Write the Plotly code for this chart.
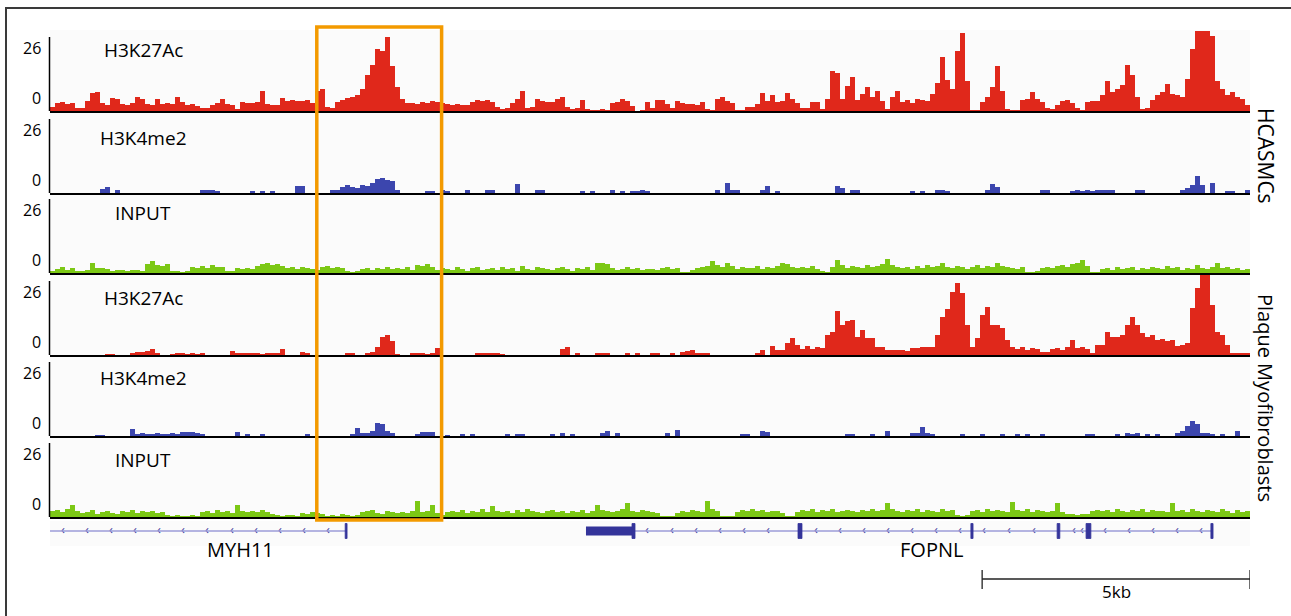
import plotly.graph_objects as go

W, H = 1291, 616
REGION_KB = 22.4
NBINS = 240
BIN_KB = REGION_KB / NBINS

RED = "#E0281B"
BLUE = "#3C46AE"
GREEN = "#7CC815"
ORANGE = "#F39A00"
GENE = "#34349A"
GENE_LINE = "#9C9CD8"

# ---- signal tracks (bar heights per bin, left to right) ----
h3k27ac_smc = [
    4, 8, 9, 7, 8, 3, 3, 10, 18, 19,
    8, 6, 13, 12, 7, 6, 8, 14, 12, 7,
    6, 12, 7, 8, 7, 14, 9, 6, 7, 5,
    3, 3, 6, 8, 12, 7, 6, 2, 9, 8,
    8, 9, 20, 7, 6, 6, 13, 10, 11, 10,
    10, 11, 8, 20, 22, 4, 3, 9, 11, 13,
    14, 16, 22, 36, 46, 62, 60, 74, 45, 24,
    12, 8, 8, 7, 9, 8, 10, 9, 8, 7,
    6, 7, 6, 6, 9, 11, 10, 11, 9, 4,
    2, 3, 8, 12, 20, 3, 4, 12, 10, 9,
    9, 12, 14, 4, 2, 3, 11, 2, 1, 1,
    2, 1, 8, 9, 12, 10, 5, 0, 1, 9,
    3, 11, 11, 7, 3, 10, 8, 7, 7, 6,
    9, 2, 1, 12, 14, 10, 8, 1, 1, 4,
    4, 7, 18, 10, 16, 9, 10, 18, 12, 8,
    3, 3, 9, 9, 2, 12, 40, 38, 12, 25,
    34, 11, 17, 24, 14, 20, 10, 2, 14, 20,
    9, 11, 8, 12, 11, 10, 17, 28, 54, 31,
    22, 60, 78, 30, 1, 1, 9, 14, 24, 45,
    20, 2, 1, 1, 11, 12, 19, 12, 9, 3,
    2, 6, 10, 11, 8, 3, 1, 9, 10, 10,
    16, 30, 19, 22, 26, 46, 36, 14, 2, 3,
    11, 16, 19, 27, 17, 16, 14, 32, 62, 80,
    80, 80, 75, 30, 22, 16, 19, 14, 12, 6,
]

h3k4me2_smc = [
    0, 0, 0, 0, 0, 0, 0, 0, 0, 0,
    4, 6, 0, 3, 0, 0, 0, 0, 0, 0,
    0, 0, 0, 0, 0, 0, 0, 0, 0, 0,
    3, 3, 3, 2, 0, 0, 0, 0, 0, 0,
    2, 0, 2, 0, 2, 0, 0, 0, 0, 7,
    7, 0, 0, 0, 0, 0, 3, 3, 6, 8,
    6, 5, 8, 7, 10, 14, 15, 13, 12, 3,
    0, 0, 0, 0, 0, 2, 2, 0, 3, 2,
    0, 0, 0, 3, 0, 0, 0, 3, 3, 0,
    0, 0, 0, 9, 0, 0, 0, 3, 3, 0,
    0, 0, 0, 0, 0, 0, 2, 0, 2, 0,
    0, 0, 3, 0, 2, 0, 2, 2, 3, 2,
    0, 0, 0, 0, 0, 0, 0, 0, 0, 0,
    0, 0, 0, 3, 0, 10, 3, 3, 0, 0,
    0, 0, 3, 7, 0, 2, 0, 0, 0, 0,
    0, 0, 0, 0, 0, 0, 0, 7, 5, 0,
    3, 3, 0, 0, 0, 0, 0, 0, 0, 0,
    0, 0, 2, 0, 2, 0, 0, 3, 3, 2,
    0, 0, 0, 0, 0, 0, 0, 3, 9, 6,
    0, 0, 0, 0, 0, 0, 0, 0, 3, 3,
    0, 0, 0, 0, 2, 3, 2, 3, 2, 3,
    3, 3, 3, 0, 0, 0, 0, 3, 3, 0,
    0, 0, 0, 0, 0, 0, 3, 5, 8, 17,
    8, 0, 10, 0, 0, 2, 2, 0, 0, 3,
]

input_smc = [
    2, 4, 6, 3, 5, 2, 2, 3, 10, 5,
    5, 4, 2, 3, 3, 2, 3, 3, 2, 9,
    12, 8, 7, 9, 2, 2, 1, 2, 6, 5,
    7, 5, 8, 6, 6, 2, 2, 5, 4, 5,
    4, 7, 9, 10, 8, 9, 7, 5, 6, 4,
    6, 5, 4, 3, 6, 7, 5, 6, 5, 2,
    1, 2, 4, 5, 3, 5, 4, 6, 4, 5,
    4, 6, 3, 8, 7, 9, 6, 3, 5, 4,
    3, 6, 4, 2, 5, 6, 3, 4, 5, 3,
    6, 4, 5, 2, 7, 4, 3, 6, 5, 4,
    3, 5, 6, 4, 2, 5, 4, 6, 3, 10,
    10, 9, 5, 3, 4, 6, 4, 5, 3, 4,
    4, 3, 5, 6, 4, 5, 1, 1, 3, 5,
    6, 7, 12, 8, 6, 10, 7, 4, 6, 5,
    5, 7, 4, 6, 5, 7, 10, 9, 6, 5,
    6, 5, 7, 4, 2, 1, 6, 13, 8, 5,
    7, 6, 5, 8, 6, 7, 9, 14, 8, 6,
    5, 6, 4, 7, 5, 8, 6, 7, 10, 6,
    5, 7, 6, 4, 6, 8, 5, 7, 6, 10,
    7, 6, 5, 4, 6, 1, 1, 2, 5, 6,
    5, 7, 8, 6, 9, 10, 13, 7, 1, 1,
    4, 5, 3, 6, 4, 5, 6, 3, 5, 4,
    6, 5, 4, 7, 5, 6, 3, 5, 4, 8,
    5, 4, 6, 10, 5, 6, 4, 5, 3, 4,
]

h3k27ac_plq = [
    0, 0, 0, 0, 0, 0, 0, 0, 0, 0,
    0, 1, 1, 0, 0, 0, 2, 3, 3, 4,
    6, 2, 0, 0, 1, 2, 2, 1, 2, 1,
    2, 0, 0, 0, 0, 0, 4, 2, 2, 2,
    2, 2, 1, 2, 2, 2, 6, 0, 0, 0,
    3, 2, 0, 0, 0, 0, 0, 0, 0, 2,
    2, 0, 0, 2, 3, 8, 18, 20, 14, 1,
    0, 0, 2, 2, 2, 1, 2, 7, 0, 0,
    0, 0, 0, 0, 0, 2, 2, 2, 2, 2,
    1, 0, 0, 0, 0, 0, 0, 0, 0, 0,
    0, 0, 6, 8, 0, 2, 0, 0, 0, 2,
    2, 2, 0, 0, 0, 2, 0, 2, 0, 0,
    2, 2, 0, 0, 2, 0, 3, 4, 5, 2,
    2, 2, 0, 0, 0, 0, 0, 0, 0, 0,
    0, 2, 5, 0, 9, 5, 5, 12, 17, 10,
    6, 9, 6, 8, 7, 20, 23, 44, 30, 34,
    35, 18, 25, 17, 17, 8, 8, 5, 5, 5,
    5, 4, 7, 7, 8, 8, 8, 20, 38, 46,
    63, 72, 62, 30, 8, 17, 40, 48, 30, 30,
    27, 15, 8, 6, 8, 5, 7, 6, 3, 3,
    6, 7, 5, 8, 15, 7, 8, 6, 2, 10,
    10, 23, 18, 18, 20, 30, 38, 30, 22, 18,
    20, 15, 16, 14, 15, 9, 10, 12, 47, 67,
    80, 80, 50, 23, 20, 10, 2, 2, 2, 2,
]

h3k4me2_plq = [
    0, 0, 0, 0, 0, 0, 0, 0, 0, 1,
    1, 0, 0, 0, 0, 0, 7, 2, 3, 2,
    2, 3, 2, 2, 3, 2, 4, 4, 4, 3,
    2, 0, 0, 0, 0, 0, 0, 4, 0, 2,
    0, 0, 2, 0, 0, 0, 0, 0, 0, 0,
    0, 2, 0, 0, 0, 0, 0, 0, 0, 0,
    2, 8, 3, 3, 5, 13, 12, 5, 3, 0,
    0, 0, 0, 2, 4, 4, 4, 0, 0, 1,
    0, 0, 2, 0, 2, 0, 0, 0, 0, 0,
    0, 2, 0, 2, 2, 0, 0, 0, 0, 0,
    2, 0, 3, 0, 2, 0, 0, 0, 0, 0,
    3, 5, 0, 3, 0, 0, 0, 0, 0, 0,
    0, 0, 0, 3, 0, 6, 0, 0, 0, 0,
    0, 0, 0, 0, 0, 0, 0, 0, 2, 2,
    0, 0, 5, 4, 0, 0, 0, 0, 0, 0,
    0, 0, 0, 0, 0, 0, 0, 0, 0, 2,
    2, 0, 0, 0, 2, 0, 0, 5, 0, 0,
    0, 0, 3, 3, 9, 3, 2, 0, 0, 0,
    0, 0, 2, 0, 0, 0, 2, 0, 0, 0,
    2, 0, 0, 2, 0, 2, 0, 0, 2, 0,
    0, 0, 0, 0, 0, 0, 0, 2, 2, 0,
    0, 0, 0, 2, 0, 3, 2, 3, 0, 2,
    0, 2, 0, 0, 0, 3, 5, 10, 15, 12,
    3, 3, 2, 0, 2, 0, 0, 5, 0, 0,
]

input_plq = [
    6, 7, 5, 8, 12, 6, 4, 5, 7, 3,
    5, 6, 4, 3, 6, 5, 7, 4, 6, 5,
    6, 4, 5, 2, 1, 2, 1, 1, 2, 1,
    5, 6, 4, 7, 5, 6, 4, 12, 6, 5,
    6, 5, 7, 5, 3, 2, 1, 2, 2, 1,
    4, 3, 5, 4, 3, 1, 2, 1, 3, 2,
    1, 2, 5, 6, 7, 4, 3, 6, 5, 4,
    5, 4, 6, 16, 5, 6, 12, 4, 2, 5,
    6, 5, 7, 4, 6, 5, 8, 5, 11, 6,
    5, 6, 4, 7, 5, 8, 6, 5, 4, 6,
    7, 5, 6, 4, 6, 5, 7, 4, 6, 12,
    7, 6, 5, 6, 8, 14, 6, 5, 7, 6,
    5, 4, 1, 1, 1, 4, 6, 5, 7, 6,
    5, 16, 8, 6, 1, 1, 1, 5, 7, 6,
    8, 6, 7, 5, 6, 6, 4, 1, 1, 5,
    7, 6, 8, 5, 7, 6, 8, 5, 6, 7,
    6, 5, 7, 6, 8, 6, 7, 14, 8, 6,
    5, 7, 6, 8, 5, 7, 6, 5, 8, 6,
    7, 2, 1, 2, 6, 7, 5, 8, 6, 7,
    6, 5, 15, 7, 6, 8, 5, 7, 6, 5,
    6, 14, 5, 3, 3, 2, 3, 3, 6, 7,
    6, 7, 5, 8, 6, 5, 7, 6, 8, 5,
    7, 6, 6, 5, 14, 6, 7, 5, 8, 6,
    5, 7, 6, 5, 8, 6, 4, 7, 5, 6,
]

track_names = ["H3K27Ac", "H3K4me2", "INPUT", "H3K27Ac", "H3K4me2", "INPUT"]
track_values = [h3k27ac_smc, h3k4me2_smc, input_smc, h3k27ac_plq, h3k4me2_plq, input_plq]
track_colors = [RED, BLUE, GREEN, RED, BLUE, GREEN]
scale_labels = ["26", "0"]
group_labels = ["HCASMCs", "Plaque Myofibroblasts"]

# ---- gene annotation (kb) ----
gene_names = ["MYH11", "FOPNL"]
gene_label_kb = [3.55, 16.46]
gene_spans = [(0.0, 5.525), (10.005, 21.69)]
utr_blocks = [(10.005, 10.864)]
exons = [(5.51, 5.545), (10.864, 10.92), (13.963, 14.037), (17.19, 17.23),
         (18.80, 18.85), (19.34, 19.43), (21.67, 21.71)]
chevrons_kb = [0.243, 0.691, 1.139, 1.587, 2.035, 2.483, 2.931, 3.397, 3.845, 4.293,
               4.741, 5.189, 10.491, 11.145, 11.611, 12.059, 12.507, 12.955, 13.403,
               14.299, 14.747, 15.195, 15.643, 16.091, 16.539, 16.987, 17.435, 17.901,
               18.368, 19.115, 19.264, 19.693, 20.141, 20.589, 21.037, 21.485]
highlight_kb = (4.98, 7.31)
scale_bar_kb = 5

# ---- layout geometry (pixels) ----
PLOT_L, PLOT_R = 50, 1250
baselines = [111, 193, 273, 355, 436, 517]
TRACK_H = 81
title_offset = [61, 55, 60, 57, 58, 57]


def px(x):
    return x / W


def py(y):
    return 1 - y / H


fig = go.Figure()
layout = dict(
    width=W, height=H, margin=dict(l=0, r=0, t=0, b=0),
    paper_bgcolor="white", plot_bgcolor="rgba(0,0,0,0)",
    showlegend=False, bargap=0, barmode="overlay",
    font=dict(family="Open Sans, Noto Sans, sans-serif", color="black"),
)
shapes = []
annotations = []

xcenters = [(i + 0.5) * BIN_KB for i in range(NBINS)]

for k, (name, vals, col, base) in enumerate(zip(track_names, track_values, track_colors, baselines)):
    n = k + 1
    xa = "xaxis" if n == 1 else f"xaxis{n}"
    ya = "yaxis" if n == 1 else f"yaxis{n}"
    xr = "x" if n == 1 else f"x{n}"
    yr = "y" if n == 1 else f"y{n}"
    fig.add_trace(go.Bar(x=xcenters, y=vals, width=BIN_KB, marker=dict(color=col, line=dict(width=0)),
                         xaxis=xr, yaxis=yr, hoverinfo="skip"))
    layout[xa] = dict(domain=[px(PLOT_L), px(PLOT_R)], range=[0, REGION_KB], anchor=yr,
                      showgrid=False, zeroline=False, showticklabels=False, ticks="",
                      showline=True, linecolor="black", linewidth=2, fixedrange=True)
    layout[ya] = dict(domain=[py(base), py(base - TRACK_H)], range=[0, TRACK_H], anchor=xr,
                      showgrid=False, zeroline=False, showticklabels=False, ticks="",
                      showline=False, fixedrange=True)
    # track background
    shapes.append(dict(type="rect", xref="paper", yref="paper", x0=px(PLOT_L), x1=px(PLOT_R),
                       y0=py(base), y1=py(base - TRACK_H), fillcolor="#FBFBFB",
                       line=dict(width=0), layer="below"))
    # y axis line
    shapes.append(dict(type="line", xref="paper", yref="paper", x0=px(49.5), x1=px(49.5),
                       y0=py(base), y1=py(base - 74), line=dict(color="black", width=1.5)))
    # scale labels
    annotations.append(dict(text=scale_labels[0], xref="paper", yref="paper", x=px(43), y=py(base - 63),
                            xanchor="right", yanchor="middle", showarrow=False, font=dict(size=16)))
    annotations.append(dict(text=scale_labels[1], xref="paper", yref="paper", x=px(43), y=py(base - 13),
                            xanchor="right", yanchor="middle", showarrow=False, font=dict(size=16)))
    annotations.append(dict(text=name, xref="paper", yref="paper", x=px(143), y=py(base - title_offset[k]),
                            xanchor="center", yanchor="middle", showarrow=False, font=dict(size=19)))

# gene track axes (y in pixel units, reversed)
layout["xaxis7"] = dict(domain=[px(PLOT_L), px(PLOT_R)], range=[0, REGION_KB], anchor="y7",
                        visible=False, fixedrange=True)
layout["yaxis7"] = dict(domain=[py(600), py(520)], range=[600, 520], anchor="x7",
                        visible=False, fixedrange=True)

GENE_Y = 531
shapes.append(dict(type="rect", xref="paper", yref="paper", x0=px(PLOT_L), x1=px(PLOT_R),
                   y0=py(546), y1=py(521), fillcolor="#FBFBFB", line=dict(width=0), layer="below"))
for a, b in gene_spans:
    shapes.append(dict(type="line", xref="x7", yref="y7", x0=a, x1=b, y0=GENE_Y, y1=GENE_Y,
                       line=dict(color=GENE_LINE, width=1.5)))
for a, b in utr_blocks:
    shapes.append(dict(type="rect", xref="x7", yref="y7", x0=a, x1=b, y0=GENE_Y - 4.5, y1=GENE_Y + 4.5,
                       fillcolor=GENE, line=dict(width=0)))
for a, b in exons:
    shapes.append(dict(type="rect", xref="x7", yref="y7", x0=a, x1=b, y0=GENE_Y - 7.5, y1=GENE_Y + 7.5,
                       fillcolor=GENE, line=dict(color=GENE, width=0.8)))
fig.add_trace(go.Scatter(x=chevrons_kb, y=[GENE_Y] * len(chevrons_kb), mode="text",
                         text=["‹"] * len(chevrons_kb), textposition="middle center",
                         textfont=dict(size=13, color=GENE), xaxis="x7", yaxis="y7", hoverinfo="skip"))
for nm, xk in zip(gene_names, gene_label_kb):
    annotations.append(dict(text=nm, xref="x7", yref="y7", x=xk, y=549, xanchor="center",
                            yanchor="middle", showarrow=False, font=dict(size=20)))

# scale bar
sb0, sb1 = REGION_KB - scale_bar_kb, REGION_KB
shapes.append(dict(type="line", xref="x7", yref="y7", x0=sb0, x1=sb1, y0=579, y1=579,
                   line=dict(color="#222", width=1.3)))
for xx in (sb0, sb1):
    shapes.append(dict(type="line", xref="x7", yref="y7", x0=xx, x1=xx, y0=570, y1=589,
                       line=dict(color="#222", width=1.3)))
annotations.append(dict(text=f"{scale_bar_kb}kb", xref="x7", yref="y7", x=(sb0 + sb1) / 2, y=591,
                        xanchor="center", yanchor="middle", showarrow=False, font=dict(size=17)))

# highlight box
shapes.append(dict(type="rect", xref="x", yref="paper", x0=highlight_kb[0], x1=highlight_kb[1],
                   y0=py(520), y1=py(27), line=dict(color=ORANGE, width=3.5),
                   fillcolor="rgba(0,0,0,0)", layer="above"))

# outer frame
shapes.append(dict(type="line", xref="paper", yref="paper", x0=px(6), x1=px(6), y0=0, y1=py(8),
                   line=dict(color="#3a3a3a", width=2)))
shapes.append(dict(type="line", xref="paper", yref="paper", x0=px(5), x1=1, y0=py(8), y1=py(8),
                   line=dict(color="#3a3a3a", width=2)))

# group labels (rotated)
annotations.append(dict(text=group_labels[0], xref="paper", yref="paper", x=px(1266), y=py(156),
                        textangle=90, xanchor="center", yanchor="middle", showarrow=False,
                        font=dict(size=21)))
annotations.append(dict(text=group_labels[1], xref="paper", yref="paper", x=px(1266), y=py(398),
                        textangle=90, xanchor="center", yanchor="middle", showarrow=False,
                        font=dict(size=20)))

layout["shapes"] = shapes
layout["annotations"] = annotations
fig.update_layout(**layout)
fig.write_html("out.html", config={"displayModeBar": False},
               post_script="document.body.style.margin='0px';document.body.style.padding='0px';")
